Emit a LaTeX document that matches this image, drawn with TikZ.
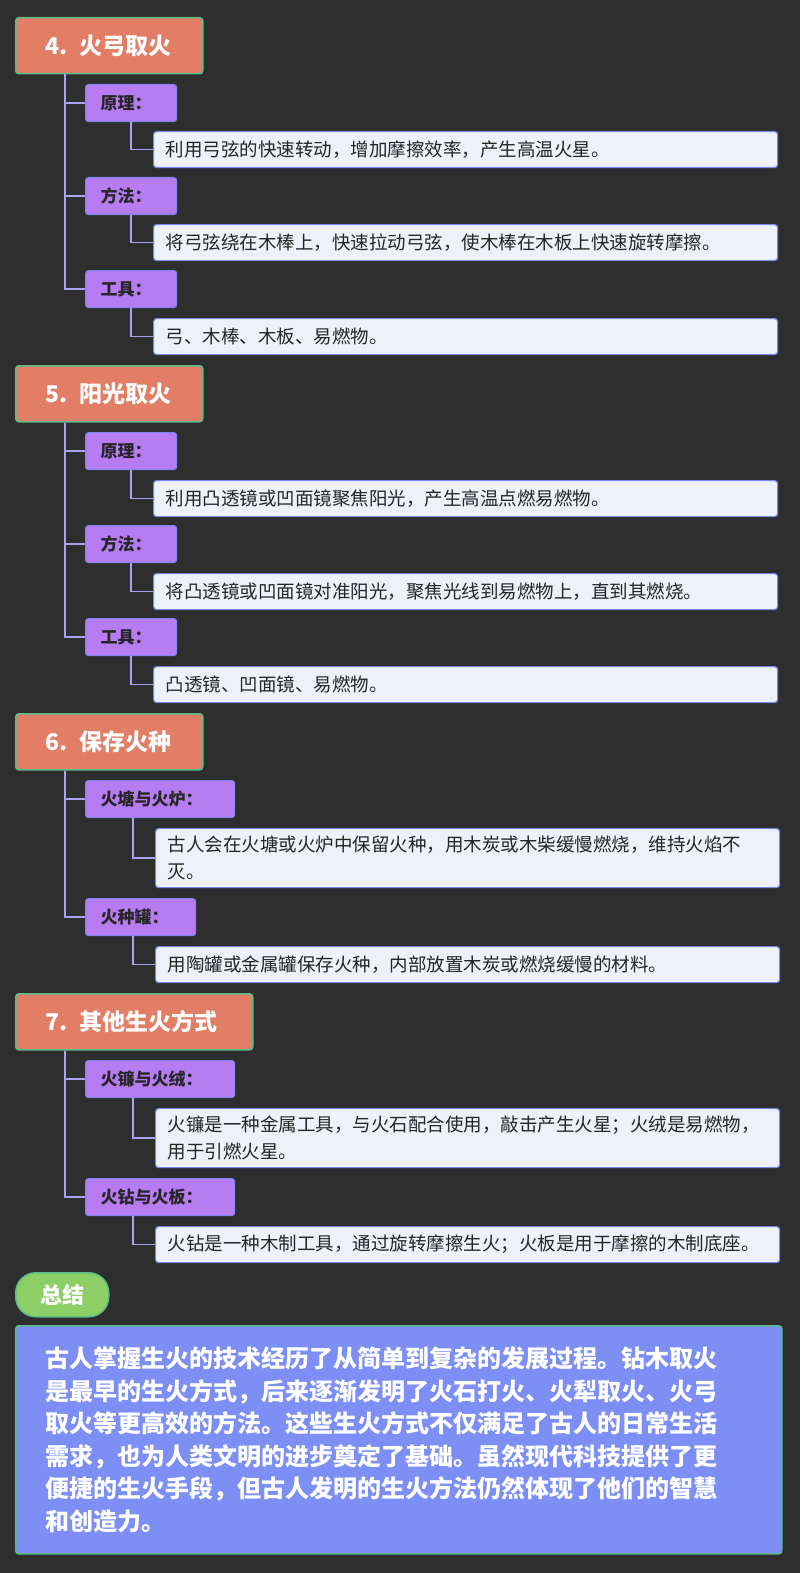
\documentclass[tikz,border=0pt]{standalone}
\usepackage{fontspec}
\setmainfont{Noto Sans CJK SC}
\usetikzlibrary{positioning}
\definecolor{bgdark}{HTML}{2E2E2E}
\definecolor{headfill}{HTML}{E27D66}
\definecolor{headedge}{HTML}{5DBB8A}
\definecolor{subfill}{HTML}{B77CF2}
\definecolor{subedge}{HTML}{7C86F0}
\definecolor{leaffill}{HTML}{EEF0FA}
\definecolor{linkcol}{HTML}{A9A2F2}
\definecolor{sumfill}{HTML}{7D8FF5}
\definecolor{tagfill}{HTML}{8DCF66}
\tikzset{
  head/.style={draw=headedge,line width=1.5pt,fill=headfill,rounded corners=3pt,anchor=north west,
    minimum height=56pt,inner xsep=30pt,text width=#1,align=left,text=white,
    font=\fontsize{23}{26}\selectfont\bfseries},
  head/.default=127pt,
  sub/.style={draw=subedge,line width=1.2pt,fill=subfill,rounded corners=3pt,anchor=north west,
    minimum height=37pt,inner xsep=15pt,text width=#1,align=left,text=black!85,
    font=\fontsize{17}{20}\selectfont\bfseries},
  sub/.default=61pt,
  leaf/.style={draw=subedge,line width=1.2pt,fill=leaffill,rounded corners=3pt,anchor=north west,
    minimum height=36pt,text width=#1,inner xsep=12pt,text=black!85,align=left,
    font=\fontsize{18.5}{27}\selectfont},
  leaf/.default=600pt,
  link/.style={draw=linkcol,line width=1.5pt},
}
\begin{document}
\begin{tikzpicture}[x=1pt,y=1pt,yscale=-1]
\useasboundingbox (0,0) rectangle (800,1573);
\fill[bgdark] (0,0) rectangle (800,1573);

% section 4
\node[head] (h4) at (15,17) {4. 火弓取火};
\node[sub] (s4a) at (85,84) {原理：};
\node[leaf] (l4a) at (153,131) {利用弓弦的快速转动，增加摩擦效率，产生高温火星。};
\node[sub] (s4b) at (85,177) {方法：};
\node[leaf] (l4b) at (153,224) {将弓弦绕在木棒上，快速拉动弓弦，使木棒在木板上快速旋转摩擦。};
\node[sub] (s4c) at (85,270) {工具：};
\node[leaf] (l4c) at (153,318) {弓、木棒、木板、易燃物。};

% section 5
\node[head] (h5) at (15,365) {5. 阳光取火};
\node[sub] (s5a) at (85,432) {原理：};
\node[leaf] (l5a) at (153,480) {利用凸透镜或凹面镜聚焦阳光，产生高温点燃易燃物。};
\node[sub] (s5b) at (85,525) {方法：};
\node[leaf] (l5b) at (153,573) {将凸透镜或凹面镜对准阳光，聚焦光线到易燃物上，直到其燃烧。};
\node[sub] (s5c) at (85,618) {工具：};
\node[leaf] (l5c) at (153,666) {凸透镜、凹面镜、易燃物。};

% section 6
\node[head] (h6) at (15,713) {6. 保存火种};
\node[sub=119pt] (s6a) at (85,780) {火塘与火炉：};
\node[leaf=600pt,minimum height=59pt] (l6a) at (155,828) {古人会在火塘或火炉中保留火种，用木炭或木柴缓慢燃烧，维持火焰不\\灭。};
\node[sub=80pt] (s6b) at (85,898) {火种罐：};
\node[leaf] (l6b) at (155,946) {用陶罐或金属罐保存火种，内部放置木炭或燃烧缓慢的材料。};

% section 7
\node[head=177pt] (h7) at (15,993) {7. 其他生火方式};
\node[sub=119pt] (s7a) at (85,1060) {火镰与火绒：};
\node[leaf=600pt,minimum height=59pt] (l7a) at (155,1108) {火镰是一种金属工具，与火石配合使用，敲击产生火星；火绒是易燃物，\\用于引燃火星。};
\node[sub=119pt] (s7b) at (85,1178) {火钻与火板：};
\node[leaf] (l7b) at (155,1226) {火钻是一种木制工具，通过旋转摩擦生火；火板是用于摩擦的木制底座。};

% connectors
\foreach \h/\s in {h4/s4a,h4/s4b,h4/s4c,h5/s5a,h5/s5b,h5/s5c,h6/s6a,h6/s6b,h7/s7a,h7/s7b}
  \draw[link] ([xshift=50pt]\h.south west) |- (\s.west);
\foreach \s/\l in {s4a/l4a,s4b/l4b,s4c/l4c,s5a/l5a,s5b/l5b,s5c/l5c}
  \draw[link] ([xshift=46pt]\s.south west) |- (\l.west);
\foreach \s/\l in {s6a/l6a,s6b/l6b,s7a/l7a,s7b/l7b}
  \draw[link] ([xshift=48pt]\s.south west) |- (\l.west);

% summary
\node[draw=headedge,line width=1.5pt,fill=tagfill,rounded corners=20pt,anchor=north west,
  minimum width=93pt,minimum height=44pt,text=white,font=\fontsize{22}{24}\selectfont\bfseries]
  (tag) at (15,1272) {总结};
\node[draw=headedge,line width=1.5pt,fill=sumfill,rounded corners=3pt,anchor=north west,
  text width=706pt,minimum height=228pt,inner xsep=30pt,align=left,text=white,
  font=\fontsize{24}{32.5}\selectfont\bfseries] (sum) at (15,1325)
  {古人掌握生火的技术经历了从简单到复杂的发展过程。钻木取火\\是最早的生火方式，后来逐渐发明了火石打火、火犁取火、火弓\\取火等更高效的方法。这些生火方式不仅满足了古人的日常生活\\需求，也为人类文明的进步奠定了基础。虽然现代科技提供了更\\便捷的生火手段，但古人发明的生火方法仍然体现了他们的智慧\\和创造力。};
\end{tikzpicture}
\end{document}
